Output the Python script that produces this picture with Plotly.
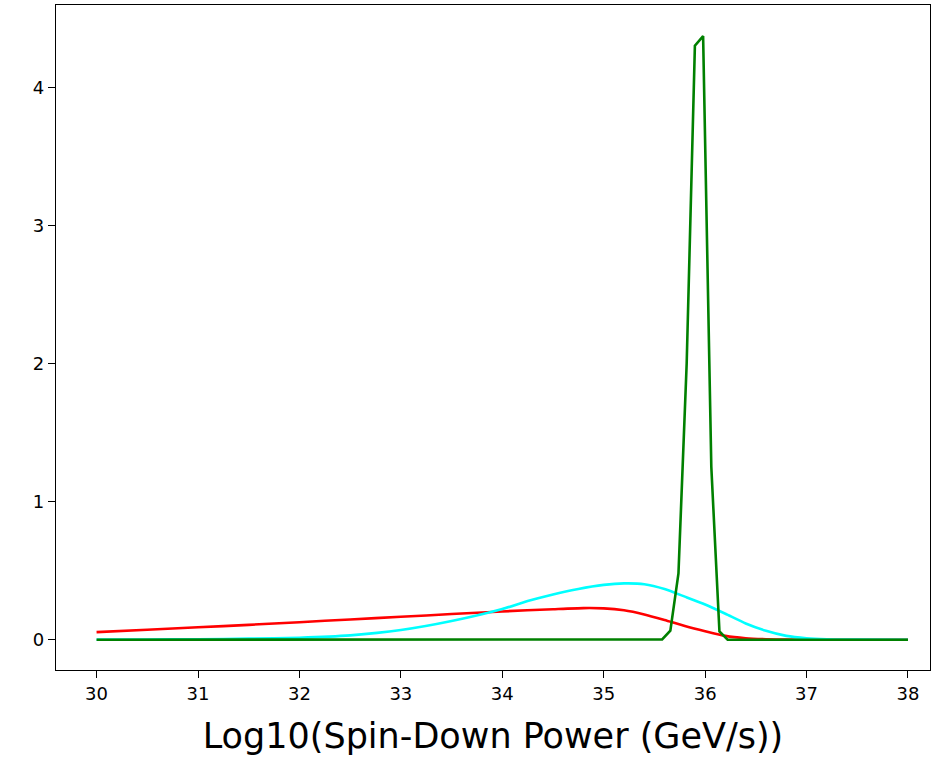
import plotly.graph_objects as go

# Red curve (broad, skewed)
red_x = [30.0, 30.5, 31.0, 31.5, 32.0, 32.5, 33.0, 33.5, 34.0, 34.5, 34.8, 35.0,
         35.2, 35.4, 35.6, 35.8, 36.0, 36.2, 36.4, 36.6, 36.8, 37.0, 37.5, 38.0]
red_y = [0.055, 0.072, 0.090, 0.108, 0.127, 0.147, 0.166, 0.186, 0.205, 0.221, 0.229, 0.227,
         0.213, 0.183, 0.143, 0.100, 0.062, 0.028, 0.011, 0.004, 0.001, 0.0, 0.0, 0.0]

# Cyan curve
cyan_x = [30.0, 30.5, 31.0, 31.5, 32.0, 32.5, 33.0, 33.5, 34.0, 34.25, 34.5, 34.75, 35.0, 35.2,
          35.4, 35.6, 35.8, 36.0, 36.2, 36.4, 36.6, 36.8, 37.0, 37.2, 37.5, 38.0]
cyan_y = [0.001, 0.002, 0.004, 0.008, 0.015, 0.032, 0.070, 0.135, 0.222, 0.280, 0.328, 0.368, 0.397, 0.408,
          0.402, 0.367, 0.312, 0.255, 0.188, 0.118, 0.065, 0.028, 0.011, 0.004, 0.001, 0.0]

# Green curve (narrow spike)
green_x = [30.0, 35.495, 35.576, 35.657, 35.737, 35.818, 35.899, 35.980, 36.061,
           36.141, 36.222, 38.0]
green_y = [0.0, 0.0, 0.003, 0.065, 0.48, 2.0, 4.30, 4.37, 1.25,
           0.06, 0.0, 0.0]

x_ticks = [30, 31, 32, 33, 34, 35, 36, 37, 38]
y_ticks = [0, 1, 2, 3, 4]
x_label = "Log10(Spin-Down Power (GeV/s))"

fig = go.Figure()
fig.add_trace(go.Scatter(x=red_x, y=red_y, mode="lines",
                         line=dict(color="#ff0000", width=2.6, shape="spline", smoothing=0.6),
                         showlegend=False))
fig.add_trace(go.Scatter(x=cyan_x, y=cyan_y, mode="lines",
                         line=dict(color="#00ffff", width=2.6, shape="spline", smoothing=0.6),
                         showlegend=False))
fig.add_trace(go.Scatter(x=green_x, y=green_y, mode="lines",
                         line=dict(color="#008000", width=2.6), showlegend=False))

axis_common = dict(showgrid=False, zeroline=False, showline=True, linecolor="black",
                   linewidth=1.3, mirror=True, ticks="outside", ticklen=7,
                   tickwidth=1.3, tickcolor="black",
                   tickfont=dict(family="DejaVu Sans", size=18, color="black"))

fig.update_layout(
    width=932, height=758,
    margin=dict(l=56, r=2, t=5, b=88),
    paper_bgcolor="white", plot_bgcolor="white",
    xaxis=dict(range=[29.6, 38.217], tickvals=x_ticks,
               ticktext=[str(v) for v in x_ticks],
               title=dict(text=x_label, standoff=20,
                          font=dict(family="DejaVu Sans", size=35, color="black")),
               **axis_common),
    yaxis=dict(range=[-0.219, 4.595], tickvals=y_ticks,
               ticktext=[str(v) for v in y_ticks], **axis_common),
)

fig.write_html("out.html", config={"displayModeBar": False},
               post_script="document.body.style.margin='0';document.body.style.padding='0';")
